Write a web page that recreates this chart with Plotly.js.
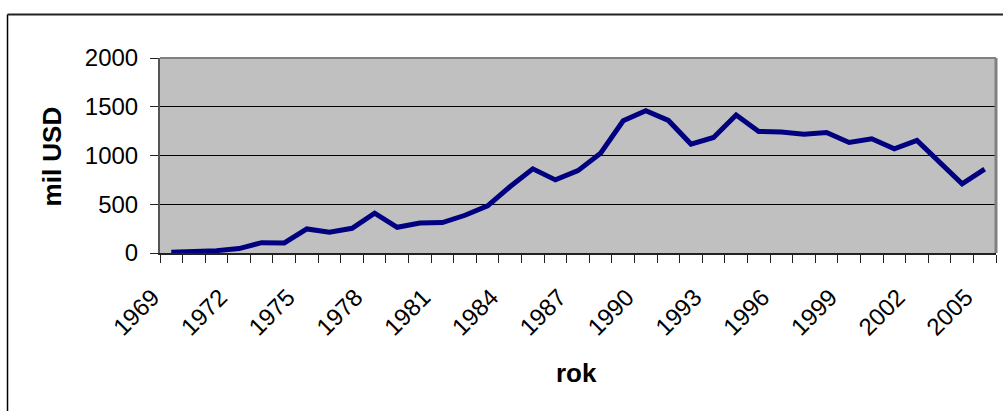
<!DOCTYPE html>
<html>
<head>
<meta charset="utf-8">
<script src="https://cdn.plot.ly/plotly-3.0.1.min.js"></script>
<style>
html,body{margin:0;padding:0;background:#fff;}
#chart{width:1003px;height:411px;}
</style>
</head>
<body>
<div id="chart"></div>
<script>
// Data
const years = [1969,1970,1971,1972,1973,1974,1975,1976,1977,1978,1979,1980,1981,1982,1983,1984,1985,1986,1987,
               1988,1989,1990,1991,1992,1993,1994,1995,1996,1997,1998,1999,2000,2001,2002,2003,2004,2005];
const values = [7,10,24,45,106,103,247,212,253,408,264,308,312,387,483,682,863,750,845,
                1024,1356,1459,1360,1117,1185,1415,1247,1240,1219,1236,1134,1171,1069,1154,928,709,860];
const tickYears = [1969,1972,1975,1978,1981,1984,1987,1990,1993,1996,1999,2002,2005];
const yTicks = [0,500,1000,1500,2000];
const xTitle = "rok";
const yTitle = "mil USD";

const trace = {
  x: years,
  y: values,
  type: 'scatter',
  mode: 'lines',
  line: {color: '#000080', width: 5},
  hoverinfo: 'x+y'
};

const font = {family: 'Liberation Sans, Arial, sans-serif', color: '#000'};
const pad = '\u00A0\u00A0\u00A0\u00A0';

const layout = {
  width: 1003,
  height: 411,
  margin: {l: 160, r: 7, t: 58, b: 158},
  paper_bgcolor: '#ffffff',
  plot_bgcolor: '#c0c0c0',
  showlegend: false,
  font: font,
  xaxis: {
    type: 'linear',
    range: [1968.5, 2005.5],
    tickmode: 'array',
    tickvals: tickYears,
    ticktext: tickYears.map(y => String(y) + pad),
    tickangle: -45,
    ticks: '',
    ticklabelstandoff: 0,
    tickfont: {family: font.family, size: 24, color: '#000'},
    showgrid: false,
    zeroline: false,
    showline: true,
    linecolor: '#222',
    linewidth: 2,
    minor: {
      ticks: 'outside',
      tick0: 1968.5,
      dtick: 1,
      ticklen: 8,
      tickwidth: 1,
      tickcolor: '#222',
      showgrid: false
    },
    fixedrange: true
  },
  yaxis: {
    range: [0, 2000],
    tickmode: 'array',
    tickvals: yTicks,
    ticktext: yTicks.map(String),
    ticks: 'outside',
    ticklen: 8,
    tickwidth: 1,
    tickcolor: '#222',
    ticklabelstandoff: 7,
    tickfont: {family: font.family, size: 24, color: '#000'},
    showgrid: true,
    gridcolor: '#000000',
    gridwidth: 1,
    zeroline: false,
    showline: true,
    linecolor: '#555',
    linewidth: 2,
    fixedrange: true
  },
  shapes: [
    // plot area border (top and right)
    {type: 'line', xref: 'paper', yref: 'paper', x0: 0, x1: 1, y0: 1, y1: 1,
     line: {color: '#808080', width: 2}},
    {type: 'line', xref: 'paper', yref: 'paper', x0: 1, x1: 1, y0: 0, y1: 1,
     line: {color: '#808080', width: 3}},
    // outer chart frame (left and top edges visible)
    {type: 'line', xref: 'paper', yref: 'paper', x0: -0.1824, x1: -0.1824, y0: -1.0, y1: 1.2231,
     line: {color: '#000', width: 1.5}},
    {type: 'line', xref: 'paper', yref: 'paper', x0: -0.1824, x1: 1.05, y0: 1.2231, y1: 1.2231,
     line: {color: '#222', width: 2}}
  ],
  annotations: [
    {text: '<b>' + xTitle + '</b>', xref: 'paper', yref: 'paper',
     x: 0.4988, y: -0.6154, xanchor: 'center', yanchor: 'middle', showarrow: false,
     font: {family: font.family, size: 26, color: '#000'}},
    {text: '<b>' + yTitle + '</b>', xref: 'paper', yref: 'paper',
     x: -0.1292, y: 0.495, xanchor: 'center', yanchor: 'middle', showarrow: false, textangle: -90,
     font: {family: font.family, size: 26, color: '#000'}}
  ]
};

Plotly.newPlot('chart', [trace], layout, {displayModeBar: false, staticPlot: true});
</script>
</body>
</html>
